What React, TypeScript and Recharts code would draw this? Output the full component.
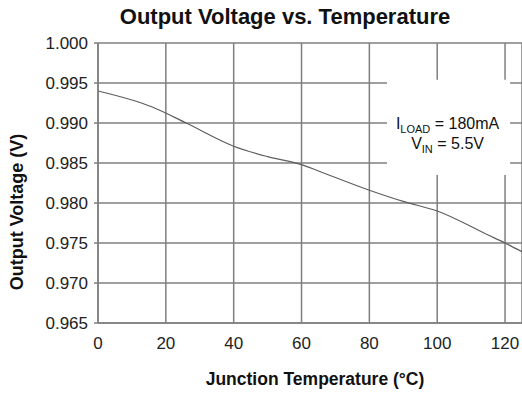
import React from "react";
import {
    LineChart,
    Line,
    XAxis,
    YAxis,
    CartesianGrid,
    ReferenceArea,
} from "recharts";

// Junction temperature (°C) and output voltage (V)
const temperatures = [0, 16, 26, 40, 50, 60, 65, 80, 90, 100, 115, 120, 125];
const outputVoltage = [0.994, 0.992, 0.99, 0.9871, 0.9858, 0.9848, 0.984, 0.9816, 0.9802, 0.979, 0.976, 0.975, 0.9739];

const xTicks = [0, 20, 40, 60, 80, 100, 120];
const yTicks = [0.965, 0.97, 0.975, 0.98, 0.985, 0.99, 0.995, 1.0];

const FONT = "'Liberation Sans', Arial, Helvetica, sans-serif";
const GRID = "#7f7f7f";

const data = temperatures.map((t, i) => ({ t, v: outputVoltage[i] }));

// two-line condition note drawn inside the white box
function ConditionNote(props: any) {
    const vb = props.viewBox || {};
    const cx = vb.x + vb.width / 2 - 1;
    const top = vb.y;
    return (
        <g fontFamily={FONT} fill="#111" fontSize={16}>
            <text x={cx} y={top + 49} textAnchor="middle">
                <tspan>I</tspan>
                <tspan fontSize={11} dy={4}>LOAD</tspan>
                <tspan dy={-4}> = 180mA</tspan>
            </text>
            <text x={cx} y={top + 69} textAnchor="middle">
                <tspan>V</tspan>
                <tspan fontSize={11} dy={4}>IN</tspan>
                <tspan dy={-4}> = 5.5V</tspan>
            </text>
        </g>
    );
}

function YTitle() {
    return (
        <text
            transform="translate(23,212) rotate(-90)"
            textAnchor="middle"
            fontFamily={FONT}
            fontWeight="bold"
            fontSize={18}
            fill="#111"
        >
            Output Voltage (V)
        </text>
    );
}

export default function App() {
    return (
        <div style={{ position: "relative", width: 522, height: 402, background: "#fff" }}>
            <style>{`body{margin:0}`}</style>
            <div
                style={{
                    position: "absolute",
                    left: 0,
                    top: 4,
                    width: 570,
                    textAlign: "center",
                    fontFamily: FONT,
                    fontWeight: "bold",
                    fontSize: 22,
                    color: "#111",
                }}
            >
                Output Voltage vs. Temperature
            </div>
            <LineChart
                width={522}
                height={402}
                data={data}
                margin={{ top: 43, right: 0, bottom: 0, left: 0 }}
            >
                <CartesianGrid stroke={GRID} strokeWidth={1.5} />
                <XAxis
                    dataKey="t"
                    type="number"
                    domain={[0, 125]}
                    ticks={xTicks}
                    height={79}
                    axisLine={{ stroke: GRID, strokeWidth: 1.5 }}
                    tickLine={false}
                    tickSize={0}
                    tickMargin={14}
                    tick={{ fill: "#222", fontSize: 17, fontFamily: FONT }}
                    label={{
                        value: "Junction Temperature (°C)",
                        position: "insideBottom",
                        offset: 17,
                        dx: 5,
                        fill: "#111",
                        fontSize: 17.5,
                        fontWeight: "bold",
                        fontFamily: FONT,
                    }}
                />
                <YAxis
                    type="number"
                    domain={[0.965, 1.0]}
                    ticks={yTicks}
                    width={98}
                    interval={0}
                    tickFormatter={(v: number) => v.toFixed(3)}
                    axisLine={{ stroke: GRID, strokeWidth: 1.5 }}
                    tickLine={{ stroke: GRID, strokeWidth: 1.5 }}
                    tickSize={4}
                    tickMargin={6}
                    tick={{ fill: "#222", fontSize: 17, fontFamily: FONT }}
                    label={<YTitle />}
                />
                <ReferenceArea
                    x1={85.2}
                    x2={121.5}
                    y1={0.9835}
                    y2={0.9954}
                    fill="#fff"
                    fillOpacity={1}
                    stroke="none"
                    label={<ConditionNote />}
                />
                <Line
                    dataKey="v"
                    stroke="#5e5e5e"
                    strokeWidth={1.2}
                    dot={false}
                    type="monotone"
                    isAnimationActive={false}
                />
            </LineChart>
        </div>
    );
}
